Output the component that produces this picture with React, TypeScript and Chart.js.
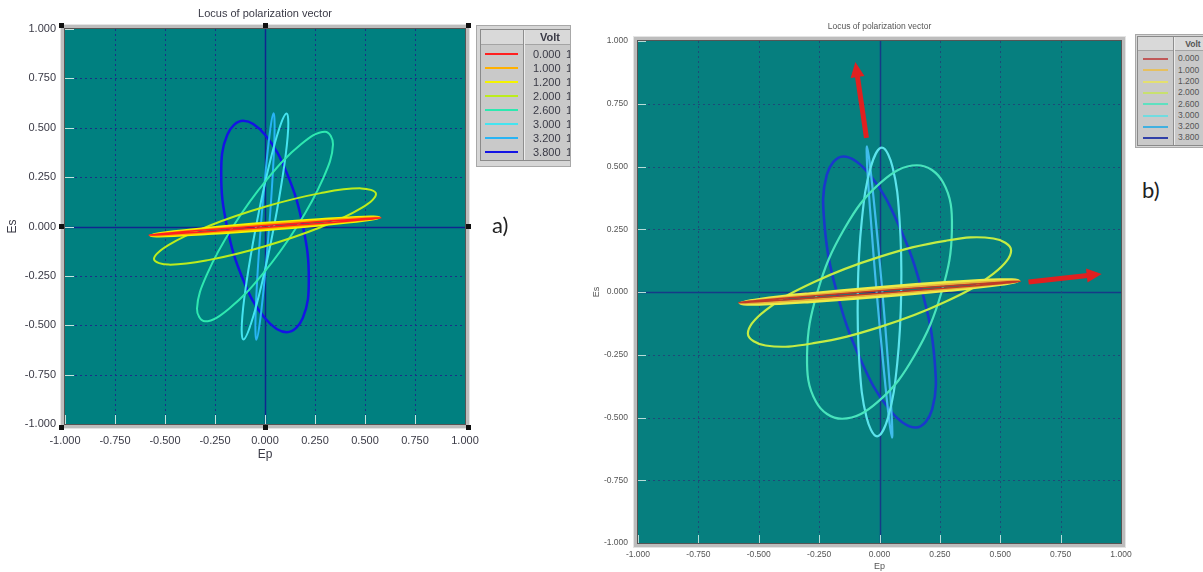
import React, { useEffect, useRef } from "react";
import { Chart, registerables } from "chart.js";

Chart.register(...registerables);

type Pt = [number, number];

const TITLE = "Locus of polarization vector";
const X_TITLE = "Ep";
const Y_TITLE = "Es";
const LEGEND_HEADER = "Volt";
const VOLTS = ["0.000", "1.000", "1.200", "2.000", "2.600", "3.000", "3.200", "3.800"];
const AXIS_TICKS = [-1, -0.75, -0.5, -0.25, 0, 0.25, 0.5, 0.75, 1];

// ---- panel a) : loci (Ep, Es) ----
const a0000: Pt[] = [[0.58, 0.043], [0.502, 0.04], [0.29, 0.026], [0, 0.005], [-0.29, -0.017], [-0.502, -0.035], [-0.58, -0.043], [-0.502, -0.04], [-0.29, -0.026], [0, -0.005], [0.29, 0.017], [0.502, 0.035]];
const a1000: Pt[] = [[0.575, 0.045], [0.498, 0.044], [0.288, 0.031], [0, 0.01], [-0.288, -0.014], [-0.498, -0.034], [-0.575, -0.045], [-0.498, -0.044], [-0.288, -0.031], [0, -0.01], [0.288, 0.014], [0.498, 0.034]];
const a1200: Pt[] = [[0.57, 0.045], [0.494, 0.047], [0.285, 0.036], [0, 0.016], [-0.285, -0.009], [-0.494, -0.031], [-0.57, -0.045], [-0.494, -0.047], [-0.285, -0.036], [0, -0.016], [0.285, 0.009], [0.494, 0.031]];
const a2000: Pt[] = [[0.555, 0.165], [0.481, 0.193], [0.278, 0.169], [0, 0.1], [-0.278, 0.004], [-0.481, -0.093], [-0.555, -0.165], [-0.481, -0.193], [-0.278, -0.169], [0, -0.1], [0.278, -0.004], [0.481, 0.093]];
const a2600: Pt[] = [[0.3, 0.48], [0.34, 0.416], [0.289, 0.24], [0.16, 0], [-0.011, -0.24], [-0.18, -0.416], [-0.3, -0.48], [-0.34, -0.416], [-0.289, -0.24], [-0.16, 0], [0.011, 0.24], [0.18, 0.416]];
const a3000: Pt[] = [[0.108, 0.572], [0.116, 0.495], [0.093, 0.286], [0.045, 0], [-0.015, -0.286], [-0.071, -0.495], [-0.108, -0.572], [-0.116, -0.495], [-0.093, -0.286], [-0.045, 0], [0.015, 0.286], [0.071, 0.495]];
const a3200: Pt[] = [[0.043, 0.573], [0.048, 0.496], [0.04, 0.287], [0.021, 0], [-0.004, -0.287], [-0.027, -0.496], [-0.043, -0.573], [-0.048, -0.496], [-0.04, -0.287], [-0.021, 0], [0.004, 0.287], [0.027, 0.496]];
const a3800: Pt[] = [[-0.109, 0.535], [0.001, 0.463], [0.11, 0.268], [0.19, 0], [0.219, -0.268], [0.189, -0.463], [0.109, -0.535], [-0.001, -0.463], [-0.11, -0.268], [-0.19, 0], [-0.219, 0.268], [-0.189, 0.463]];

// ---- panel b) ----
const b0000: Pt[] = [[0.583, 0.042], [0.505, 0.039], [0.292, 0.025], [0, 0.005], [-0.292, -0.017], [-0.505, -0.034], [-0.583, -0.042], [-0.505, -0.039], [-0.292, -0.025], [0, -0.005], [0.292, 0.017], [0.505, 0.034]];
const b1000: Pt[] = [[0.58, 0.044], [0.502, 0.043], [0.29, 0.031], [0, 0.01], [-0.29, -0.013], [-0.502, -0.033], [-0.58, -0.044], [-0.502, -0.043], [-0.29, -0.031], [0, -0.01], [0.29, 0.013], [0.502, 0.033]];
const b1200: Pt[] = [[0.575, 0.045], [0.498, 0.048], [0.288, 0.038], [0, 0.018], [-0.288, -0.007], [-0.498, -0.03], [-0.575, -0.045], [-0.498, -0.048], [-0.288, -0.038], [0, -0.018], [0.288, 0.007], [0.498, 0.03]];
const b2000: Pt[] = [[0.545, 0.165], [0.472, 0.213], [0.273, 0.204], [0, 0.14], [-0.273, 0.039], [-0.472, -0.073], [-0.545, -0.165], [-0.472, -0.213], [-0.273, -0.204], [0, -0.14], [0.273, -0.039], [0.472, 0.073]];
const b2600: Pt[] = [[0.155, 0.505], [0.263, 0.437], [0.3, 0.253], [0.257, 0], [0.145, -0.253], [-0.006, -0.437], [-0.155, -0.505], [-0.263, -0.437], [-0.3, -0.253], [-0.257, 0], [-0.145, 0.253], [0.006, 0.437]];
const b3000: Pt[] = [[0.01, 0.575], [0.054, 0.498], [0.083, 0.288], [0.09, 0], [0.073, -0.288], [0.036, -0.498], [-0.01, -0.575], [-0.054, -0.498], [-0.083, -0.288], [-0.09, 0], [-0.073, 0.288], [-0.036, 0.498]];
const b3200: Pt[] = [[-0.052, 0.58], [-0.039, 0.502], [-0.016, 0.29], [0.012, 0], [0.036, -0.29], [0.051, -0.502], [0.052, -0.58], [0.039, -0.502], [0.016, -0.29], [-0.012, 0], [-0.036, 0.29], [-0.051, 0.502]];
const b3800: Pt[] = [[-0.15, 0.54], [-0.041, 0.468], [0.078, 0.27], [0.177, 0], [0.228, -0.27], [0.218, -0.468], [0.15, -0.54], [0.041, -0.468], [-0.078, -0.27], [-0.177, 0], [-0.228, 0.27], [-0.218, 0.468]];

// red arrows in panel b) : [tail, tip]
const arrowUp: Pt[] = [[-0.054, 0.614], [-0.1, 0.916]];
const arrowRight: Pt[] = [[0.617, 0.04], [0.92, 0.072]];

const curvesA = [a0000, a1000, a1200, a2000, a2600, a3000, a3200, a3800];
const curvesB = [b0000, b1000, b1200, b2000, b2600, b3000, b3200, b3800];

const colorsA = ["#ff2020", "#ffb000", "#f4f400", "#bcec1c", "#2ee8b0", "#44e4f0", "#28b4f4", "#1414e4"];
const colorsB = ["#c03a28", "#e8b43c", "#ecec48", "#c4ec44", "#48e4bc", "#5ce4ec", "#40bcec", "#1a38cc"];
const legendColorsB = ["#c05858", "#e6c060", "#e4e070", "#c8e070", "#5ee0c0", "#70dce0", "#40b0e0", "#3040a8"];
const widthsA = [1.5, 2, 3, 2, 2, 2, 2, 2.5];
const widthsB = [1.5, 2, 3.2, 2.2, 2.2, 2.2, 2.2, 2.6];

const FONT = "'Liberation Sans', Arial, sans-serif";

type FrameCfg = {
  bg: string;
  grid: string;
  zero: string;
  zeroWidth: number;
  dash: number[];
  tickMark: string;
  tickLen: number;
  handles: boolean;
  arrows: Pt[][];
};

function framePlugin(cfg: FrameCfg) {
  return {
    id: "frameDecor",
    beforeDraw(chart: any) {
      const { ctx, chartArea: a } = chart;
      const w = a.right - a.left;
      const h = a.bottom - a.top;
      ctx.save();
      ctx.fillStyle = "#e4e4e4";
      ctx.fillRect(a.left - 5, a.top - 5, w + 10, h + 10);
      ctx.fillStyle = "#bdbdbd";
      ctx.fillRect(a.left - 4, a.top - 4, w + 8, h + 8);
      ctx.fillStyle = "#555555";
      ctx.fillRect(a.left - 1, a.top - 1, w + 2, h + 2);
      ctx.fillStyle = cfg.bg;
      ctx.fillRect(a.left, a.top, w, h);
      ctx.restore();
    },
    beforeDatasetsDraw(chart: any) {
      const { ctx, chartArea: a, scales } = chart;
      const xs = scales.x;
      const ys = scales.y;
      ctx.save();
      ctx.beginPath();
      ctx.rect(a.left, a.top, a.right - a.left, a.bottom - a.top);
      ctx.clip();
      for (const v of AXIS_TICKS) {
        if (Math.abs(v) === 1) continue;
        const px = Math.round(xs.getPixelForValue(v)) + 0.5;
        const py = Math.round(ys.getPixelForValue(v)) + 0.5;
        if (v === 0) {
          ctx.setLineDash([]);
          ctx.strokeStyle = cfg.zero;
          ctx.lineWidth = cfg.zeroWidth;
        } else {
          ctx.setLineDash(cfg.dash);
          ctx.strokeStyle = cfg.grid;
          ctx.lineWidth = 1;
        }
        ctx.beginPath();
        ctx.moveTo(px, a.top);
        ctx.lineTo(px, a.bottom);
        ctx.moveTo(a.left, py);
        ctx.lineTo(a.right, py);
        ctx.stroke();
      }
      ctx.setLineDash([]);
      ctx.strokeStyle = cfg.tickMark;
      ctx.lineWidth = 1;
      for (const v of AXIS_TICKS) {
        const px = Math.round(xs.getPixelForValue(v)) + 0.5;
        const py = Math.round(ys.getPixelForValue(v)) + 0.5;
        ctx.beginPath();
        ctx.moveTo(px, a.bottom);
        ctx.lineTo(px, a.bottom - cfg.tickLen);
        ctx.moveTo(a.left, py);
        ctx.lineTo(a.left + cfg.tickLen, py);
        ctx.stroke();
      }
      ctx.restore();
    },
    afterDatasetsDraw(chart: any) {
      const { ctx, scales } = chart;
      const xs = scales.x;
      const ys = scales.y;
      ctx.save();
      for (const arr of cfg.arrows) {
        const x1 = xs.getPixelForValue(arr[0][0]);
        const y1 = ys.getPixelForValue(arr[0][1]);
        const x2 = xs.getPixelForValue(arr[1][0]);
        const y2 = ys.getPixelForValue(arr[1][1]);
        const ang = Math.atan2(y2 - y1, x2 - x1);
        const c = Math.cos(ang);
        const s = Math.sin(ang);
        const headLen = 15;
        const headW = 7;
        const bx = x2 - headLen * c;
        const by = y2 - headLen * s;
        ctx.strokeStyle = "#e02020";
        ctx.fillStyle = "#e02020";
        ctx.lineWidth = 5;
        ctx.beginPath();
        ctx.moveTo(x1, y1);
        ctx.lineTo(bx + c, by + s);
        ctx.stroke();
        ctx.beginPath();
        ctx.moveTo(x2, y2);
        ctx.lineTo(bx + headW * s, by - headW * c);
        ctx.lineTo(bx - headW * s, by + headW * c);
        ctx.closePath();
        ctx.fill();
      }
      ctx.restore();
    },
    afterDraw(chart: any) {
      if (!cfg.handles) return;
      const { ctx, chartArea: a } = chart;
      const o = 3.5;
      const mx = (a.left + a.right) / 2;
      const my = (a.top + a.bottom) / 2;
      const pts: Pt[] = [
        [a.left - o, a.top - o], [mx, a.top - o], [a.right + o, a.top - o],
        [a.left - o, my], [a.right + o, my],
        [a.left - o, a.bottom + o], [mx, a.bottom + o], [a.right + o, a.bottom + o],
      ];
      ctx.save();
      ctx.fillStyle = "#111111";
      for (const [x, y] of pts) ctx.fillRect(Math.round(x - 2.5), Math.round(y - 2.5), 5, 5);
      ctx.restore();
    },
  };
}

type PanelCfg = {
  left: number;
  top: number;
  width: number;
  height: number;
  curves: Pt[][];
  colors: string[];
  widths: number[];
  yAxisWidth: number;
  xAxisHeight: number;
  padRight: number;
  fontSize: number;
  axisTitleSize: number;
  textColor: string;
  titlePadTop: number;
  titlePadBottom: number;
  tickPadX: number;
  tickPadY: number;
  xTitlePadBottom: number;
  yTitlePadTop: number;
  frame: FrameCfg;
};

function PolarPanel({ cfg }: { cfg: PanelCfg }) {
  const ref = useRef<HTMLCanvasElement>(null);
  useEffect(() => {
    const font = { family: FONT, size: cfg.fontSize };
    const axisFont = { family: FONT, size: cfg.axisTitleSize };
    const datasets = cfg.curves.map((pts, i) => {
      const n = pts.length;
      // closed locus: wrap one point on each side so the spline is smooth at the seam,
      // and hide the two wrap segments
      const loop = [pts[n - 1], ...pts, pts[0], pts[1]];
      const last = loop.length - 1;
      return {
        label: VOLTS[i],
        data: loop.map(([x, y]) => ({ x, y })),
        showLine: true,
        borderColor: cfg.colors[i],
        backgroundColor: cfg.colors[i],
        borderWidth: cfg.widths[i],
        pointRadius: 0,
        tension: 0.4,
        fill: false,
        segment: {
          borderColor: (c: any) =>
            c.p0DataIndex === 0 || c.p1DataIndex === last ? "rgba(0,0,0,0)" : undefined,
        },
      };
    });
    const chart = new Chart(ref.current as HTMLCanvasElement, {
      type: "scatter",
      data: { datasets },
      options: {
        responsive: false,
        animation: false,
        events: [],
        layout: { padding: { left: 0, right: cfg.padRight, top: 0, bottom: 0 } },
        plugins: {
          legend: { display: false },
          tooltip: { enabled: false },
          title: {
            display: true,
            text: TITLE,
            fullSize: false,
            color: cfg.textColor,
            font: { family: FONT, size: cfg.fontSize, weight: "normal" },
            padding: { top: cfg.titlePadTop, bottom: cfg.titlePadBottom },
          },
        },
        scales: {
          x: {
            type: "linear",
            min: -1,
            max: 1,
            afterBuildTicks: (s: any) => {
              s.ticks = AXIS_TICKS.map((v) => ({ value: v }));
            },
            afterFit: (s: any) => {
              s.height = cfg.xAxisHeight;
            },
            grid: { display: false, drawTicks: false },
            border: { display: false },
            ticks: {
              autoSkip: false,
              maxRotation: 0,
              padding: cfg.tickPadX,
              color: cfg.textColor,
              font,
              callback: (v: any) => Number(v).toFixed(3),
            },
            title: {
              display: true,
              text: X_TITLE,
              color: cfg.textColor,
              font: axisFont,
              padding: { top: 0, bottom: cfg.xTitlePadBottom },
            },
          },
          y: {
            type: "linear",
            min: -1,
            max: 1,
            afterBuildTicks: (s: any) => {
              s.ticks = AXIS_TICKS.map((v) => ({ value: v }));
            },
            afterFit: (s: any) => {
              s.width = cfg.yAxisWidth;
            },
            grid: { display: false, drawTicks: false },
            border: { display: false },
            ticks: {
              autoSkip: false,
              padding: cfg.tickPadY,
              color: cfg.textColor,
              font,
              callback: (v: any) => Number(v).toFixed(3),
            },
            title: {
              display: true,
              text: Y_TITLE,
              color: cfg.textColor,
              font: axisFont,
              padding: { top: cfg.yTitlePadTop, bottom: 0 },
            },
          },
        },
      } as any,
      plugins: [framePlugin(cfg.frame)],
    });
    return () => chart.destroy();
  }, []);
  return (
    <canvas
      ref={ref}
      width={cfg.width}
      height={cfg.height}
      style={{ position: "absolute", left: cfg.left, top: cfg.top, width: cfg.width, height: cfg.height }}
    />
  );
}

type LegendCfg = {
  left: number;
  top: number;
  right: number;
  bottom: number;
  innerLeft: number;
  innerTop: number;
  innerBottom: number;
  headerBottom: number;
  divider: number;
  headerCenter: number;
  firstRow: number;
  rowStep: number;
  sampleX: number;
  sampleW: number;
  textX: number;
  extraX: number | null;
  extraText: string;
  fontSize: number;
  textColor: string;
  colors: string[];
};

function LegendTable({ c }: { c: LegendCfg }) {
  const ox = c.left + 1;
  const oy = c.top + 1;
  const box = (x: number, y: number, w: number, h: number): React.CSSProperties => ({
    position: "absolute",
    left: x - ox,
    top: y - oy,
    width: w,
    height: h,
  });
  const rowH = c.rowStep;
  return (
    <div
      style={{
        position: "absolute",
        left: c.left,
        top: c.top,
        width: c.right - c.left,
        height: c.bottom - c.top,
        boxSizing: "border-box",
        overflow: "hidden",
        background: "#d6d6d6",
        border: "1px solid #a8a8a8",
        fontFamily: FONT,
        fontSize: c.fontSize,
        color: c.textColor,
        zIndex: 2,
      }}
    >
      <div
        style={{
          ...box(c.innerLeft, c.innerTop, 200, c.innerBottom - c.innerTop),
          boxSizing: "border-box",
          border: "1px solid #8a8a8a",
          background: "#c9c9c9",
        }}
      />
      <div
        style={{
          ...box(c.innerLeft + 1, c.innerTop + 1, 200, c.headerBottom - c.innerTop - 1),
          background: "#d9d9d9",
          borderBottom: "1px solid #a4a4a4",
          boxSizing: "border-box",
        }}
      />
      <div style={{ ...box(c.divider, c.innerTop + 1, 1, c.innerBottom - c.innerTop - 2), background: "#8e8e8e" }} />
      <div style={{ ...box(c.divider + 1, c.innerTop + 1, 1, c.innerBottom - c.innerTop - 2), background: "#ececec" }} />
      <div
        style={{
          ...box(c.headerCenter - 30, c.innerTop + 1, 60, c.headerBottom - c.innerTop - 1),
          textAlign: "center",
          lineHeight: `${c.headerBottom - c.innerTop - 1}px`,
          fontWeight: "bold",
        }}
      >
        {LEGEND_HEADER}
      </div>
      {VOLTS.map((v, i) => {
        const cy = c.firstRow + i * c.rowStep;
        return (
          <React.Fragment key={v}>
            <div style={{ ...box(c.sampleX, cy - 1, c.sampleW, 2), background: c.colors[i] }} />
            <div style={{ ...box(c.textX, cy - rowH / 2, 60, rowH), lineHeight: `${rowH}px`, whiteSpace: "nowrap" }}>{v}</div>
            {c.extraX !== null ? (
              <div style={{ ...box(c.extraX, cy - rowH / 2, 20, rowH), lineHeight: `${rowH}px` }}>{c.extraText}</div>
            ) : null}
          </React.Fragment>
        );
      })}
    </div>
  );
}

const panelA: PanelCfg = {
  left: 0,
  top: 0,
  width: 495,
  height: 463,
  curves: curvesA,
  colors: colorsA,
  widths: widthsA,
  yAxisWidth: 65,
  xAxisHeight: 39,
  padRight: 30,
  fontSize: 11,
  axisTitleSize: 12,
  textColor: "#3a3a46",
  titlePadTop: 7.4,
  titlePadBottom: 8.4,
  tickPadX: 10,
  tickPadY: 9,
  xTitlePadBottom: 1,
  yTitlePadTop: 5,
  frame: {
    bg: "#008080",
    grid: "#1b2f86",
    zero: "#10268e",
    zeroWidth: 1.5,
    dash: [2, 3],
    tickMark: "#c4e4de",
    tickLen: 9,
    handles: true,
    arrows: [],
  },
};

const panelB: PanelCfg = {
  left: 580,
  top: 0,
  width: 560,
  height: 572,
  curves: curvesB,
  colors: colorsB,
  widths: widthsB,
  yAxisWidth: 58,
  xAxisHeight: 29,
  padRight: 19,
  fontSize: 8.5,
  axisTitleSize: 9,
  textColor: "#555555",
  titlePadTop: 21.9,
  titlePadBottom: 8.9,
  tickPadX: 7,
  tickPadY: 10,
  xTitlePadBottom: 0,
  yTitlePadTop: 11.6,
  frame: {
    bg: "#067f7f",
    grid: "#1d4a78",
    zero: "#163a86",
    zeroWidth: 1.5,
    dash: [2, 3],
    tickMark: "#b8dcd8",
    tickLen: 8,
    handles: false,
    arrows: [arrowUp, arrowRight],
  },
};

const legendA: LegendCfg = {
  left: 476,
  top: 25,
  right: 571,
  bottom: 167,
  innerLeft: 480,
  innerTop: 29,
  innerBottom: 161,
  headerBottom: 45,
  divider: 523,
  headerCenter: 550,
  firstRow: 54,
  rowStep: 14,
  sampleX: 485,
  sampleW: 33,
  textX: 533,
  extraX: 566,
  extraText: "1",
  fontSize: 11,
  textColor: "#3a3a46",
  colors: colorsA,
};

const legendB: LegendCfg = {
  left: 1135,
  top: 34,
  right: 1210,
  bottom: 148,
  innerLeft: 1137,
  innerTop: 36,
  innerBottom: 146,
  headerBottom: 51,
  divider: 1173,
  headerCenter: 1193,
  firstRow: 59,
  rowStep: 11.3,
  sampleX: 1143,
  sampleW: 25,
  textX: 1178,
  extraX: null,
  extraText: "",
  fontSize: 8.5,
  textColor: "#555555",
  colors: legendColorsB,
};

export default function App() {
  return (
    <div
      style={{
        position: "absolute",
        left: 0,
        top: 0,
        width: 1203,
        height: 572,
        overflow: "hidden",
        background: "#ffffff",
      }}
    >
      <PolarPanel cfg={panelA} />
      <PolarPanel cfg={panelB} />
      <LegendTable c={legendA} />
      <LegendTable c={legendB} />
      <div
        style={{
          position: "absolute",
          left: 492,
          top: 212,
          fontFamily: "Lato, 'Open Sans', sans-serif",
          fontSize: 22,
          lineHeight: "26px",
          color: "#222",
        }}
      >
        a)
      </div>
      <div
        style={{
          position: "absolute",
          left: 1142,
          top: 177,
          fontFamily: "Lato, 'Open Sans', sans-serif",
          fontSize: 22,
          lineHeight: "26px",
          color: "#222",
        }}
      >
        b)
      </div>
    </div>
  );
}
